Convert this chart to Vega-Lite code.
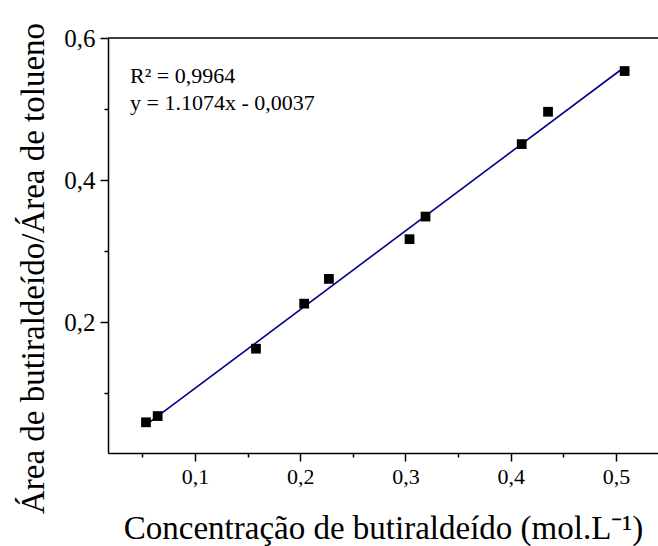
{
  "$schema": "https://vega.github.io/schema/vega-lite/v6.json",
  "width": 550,
  "height": 415,
  "autosize": {"type": "none"},
  "padding": {"left": 108, "top": 38, "right": 0, "bottom": 93},
  "background": "white",
  "config": {
    "view": {"stroke": null},
    "axis": {
      "grid": false,
      "domainColor": "black",
      "domainWidth": 1.5,
      "tickColor": "black",
      "tickWidth": 1.5,
      "labelFont": "Liberation Serif",
      "titleFont": "Liberation Serif",
      "labelColor": "black",
      "titleColor": "black",
      "titleFontWeight": "normal"
    }
  },
  "datasets": {
    "points": [
      {"conc": 0.0535, "ratio": 0.0592},
      {"conc": 0.0646, "ratio": 0.0680},
      {"conc": 0.1580, "ratio": 0.1628},
      {"conc": 0.2038, "ratio": 0.2262},
      {"conc": 0.2273, "ratio": 0.2610},
      {"conc": 0.3039, "ratio": 0.3169},
      {"conc": 0.3191, "ratio": 0.3487},
      {"conc": 0.4105, "ratio": 0.4507},
      {"conc": 0.4355, "ratio": 0.4962},
      {"conc": 0.5083, "ratio": 0.5535}
    ],
    "fit": [
      {"conc": 0.0535, "ratio": 0.0555},
      {"conc": 0.5083, "ratio": 0.5592}
    ],
    "one": [{}]
  },
  "layer": [
    {
      "data": {"name": "fit"},
      "mark": {"type": "line", "color": "#00008B", "strokeWidth": 1.6},
      "encoding": {
        "x": {
          "field": "conc", "type": "quantitative",
          "scale": {"domain": [0.0174, 0.54], "nice": false, "zero": false},
          "axis": {
            "orient": "bottom",
            "values": [0.05, 0.1, 0.15, 0.2, 0.25, 0.3, 0.35, 0.4, 0.45, 0.5],
            "labelExpr": "abs(datum.value * 10 - round(datum.value * 10)) < 0.001 ? replace(format(datum.value, '.1f'), '.', ',') : ''",
            "tickSize": {"condition": {"test": "abs(datum.value * 10 - round(datum.value * 10)) < 0.001", "value": 8}, "value": 4},
            "labelPadding": 5,
            "labelFontSize": 22,
            "title": "Concentração de butiraldeído (mol.L⁻¹)",
            "titleFontSize": 33,
            "titleBaseline": "alphabetic",
            "titleY": 85
          }
        },
        "y": {
          "field": "ratio", "type": "quantitative",
          "scale": {"domain": [0.016, 0.6], "nice": false, "zero": false},
          "axis": {
            "orient": "left",
            "values": [0.1, 0.2, 0.3, 0.4, 0.5, 0.6],
            "labelExpr": "abs(datum.value * 5 - round(datum.value * 5)) < 0.001 ? replace(format(datum.value, '.1f'), '.', ',') : ''",
            "tickSize": {"condition": {"test": "abs(datum.value * 5 - round(datum.value * 5)) < 0.001", "value": 8}, "value": 4},
            "labelPadding": 5,
            "labelFontSize": 25,
            "title": "Área de butiraldeído/Área de tolueno",
            "titleFontSize": 33,
            "titleAngle": -90,
            "titleBaseline": "alphabetic",
            "titleAlign": "center",
            "titleX": -65,
            "titleY": 230
          }
        }
      }
    },
    {
      "data": {"name": "points"},
      "mark": {"type": "point", "shape": "square", "filled": true, "color": "black", "opacity": 1, "size": 95},
      "encoding": {
        "x": {"field": "conc", "type": "quantitative"},
        "y": {"field": "ratio", "type": "quantitative"}
      }
    },
    {
      "data": {"name": "one"},
      "mark": {"type": "text", "text": "R² = 0,9964", "font": "Liberation Serif", "fontSize": 22, "align": "left", "baseline": "alphabetic", "color": "black"},
      "encoding": {
        "x": {"datum": 0.0383, "type": "quantitative"},
        "y": {"datum": 0.537, "type": "quantitative"}
      }
    },
    {
      "data": {"name": "one"},
      "mark": {"type": "text", "text": "y = 1.1074x - 0,0037", "font": "Liberation Serif", "fontSize": 22, "align": "left", "baseline": "alphabetic", "color": "black"},
      "encoding": {
        "x": {"datum": 0.0383, "type": "quantitative"},
        "y": {"datum": 0.499, "type": "quantitative"}
      }
    },
    {
      "data": {"name": "one"},
      "mark": {"type": "rule", "color": "black", "strokeWidth": 1.5},
      "encoding": {
        "y": {"datum": 0.6, "type": "quantitative"}
      }
    }
  ]
}
